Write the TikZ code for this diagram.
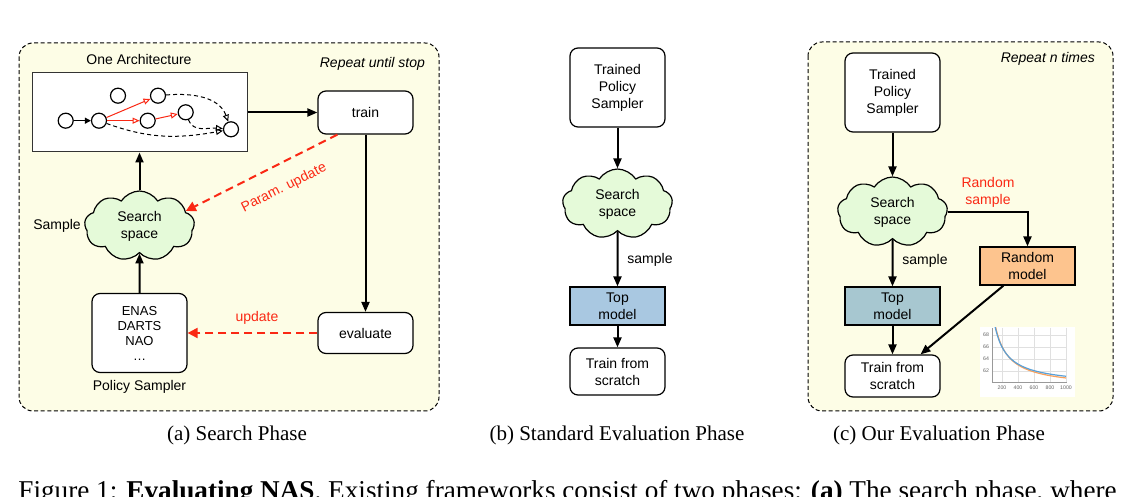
\documentclass[tikz,border=0pt]{standalone}
\usepackage{fontspec}
\setmainfont{Liberation Sans}
\newfontfamily\capfont{Liberation Serif}
\usetikzlibrary{arrows.meta,shapes.symbols}
\definecolor{panelbg}{RGB}{253,253,230}
\definecolor{cloudgreen}{RGB}{229,250,217}
\definecolor{topblue}{RGB}{169,200,225}
\definecolor{topteal}{RGB}{167,199,208}
\definecolor{randorange}{RGB}{253,196,142}
\definecolor{fbred}{RGB}{250,40,20}
\definecolor{curveblue}{RGB}{90,160,215}
\definecolor{curveorange}{RGB}{250,160,90}
\begin{document}
\begin{tikzpicture}[x=0.5pt,y=-0.5pt,
    every node/.style={font=\fontsize{7}{8.5}\selectfont},
    panel/.style={draw, dash pattern=on 2pt off 1.3pt, line width=0.5pt, fill=panelbg, rounded corners=7pt},
    box/.style={draw, line width=0.6pt, fill=white, rounded corners=4pt, align=center, minimum width=47.5pt, inner sep=0pt},
    flat/.style={draw, line width=0.6pt, align=center, minimum width=47.5pt, minimum height=19pt, inner sep=0pt},
    space/.style={cloud, cloud puffs=9, cloud puff arc=115, aspect=1.6, draw, line width=0.6pt, fill=cloudgreen, align=center, minimum width=55pt, minimum height=35pt, inner sep=0pt},
    op/.style={circle, draw, line width=0.6pt, fill=white, minimum size=7.5pt, inner sep=0pt},
    flow/.style={-{Triangle[length=5pt,width=4pt]}, line width=1pt},
    feedback/.style={-{Triangle[length=5pt,width=5pt]}, fbred, dash pattern=on 4pt off 2.5pt, line width=1pt},
    chosen/.style={-{Triangle[open,length=3.5pt,width=3pt]}, fbred, line width=0.5pt},
    skip/.style={-{Triangle[open,length=3.5pt,width=3pt]}, dash pattern=on 2pt off 1.5pt, line width=0.5pt},
    redtext/.style={text=fbred, align=center},
    subcap/.style={font=\capfont\fontsize{10.5}{12}\selectfont}
  ]
  \useasboundingbox (0,0) rectangle (1142,497);

  % (a) search phase
  \draw[panel] (19,43) rectangle (439,411);
  \node (archlbl) at (139,59) {One Architecture};
  \node[anchor=east] (repA) at (432,64) {\itshape Repeat until stop};
  \node[draw=black!80, line width=0.5pt, fill=white, minimum width=107.5pt, minimum height=39.5pt] (arch) at (139.5,112.5) {};
  \node[op] (n1) at (65.7,120.7) {};
  \node[op] (n2) at (99,120.7) {};
  \node[op] (n3) at (118,95.7) {};
  \node[op] (n4) at (158,95.7) {};
  \node[op] (n5) at (147.7,120.7) {};
  \node[op] (n6) at (185.7,112.3) {};
  \node[op] (n7) at (231,129.3) {};
  \draw[-{Triangle[length=3pt,width=3pt]}, line width=0.6pt] (n1) -- (n2);
  \draw[chosen] (n2) -- (n4);
  \draw[chosen] (n2) -- (n5);
  \draw[chosen] (n5) -- (n6);
  \draw[skip] (n4) to[out=5,in=110] (n7);
  \draw[skip] (n6) to[out=-70,in=175] (n7);
  \draw[skip] (n2) to[out=-20,in=190] (n7);

  \node[box, minimum height=21.5pt] (train) at (365.5,112.5) {train};
  \node[box, minimum height=20.5pt] (eval) at (365.5,333) {evaluate};
  \node[space] (cloudA) at (139.5,226) {Search\\space};
  \node (samplelbl) at (57,226) {Sample};
  \node[box, minimum height=39.5pt, font=\fontsize{6.5}{7.5}\selectfont] (policy) at (139.5,333) {ENAS\\DARTS\\NAO\\\dots};
  \node (policylbl) at (139.5,387) {Policy Sampler};

  \draw[flow] (arch) -- (train);
  \draw[flow] (train) -- (eval);
  \draw[flow] (policy) -- (cloudA);
  \draw[flow] (cloudA) -- (arch);
  \draw[feedback] ([xshift=10pt]train.south west) -- (cloudA.18);
  \node[redtext, rotate=26.7, inner sep=1pt] (paramlbl) at (284,188) {Param. update};
  \draw[feedback] (eval) -- (policy);
  \node[redtext] (updlbl) at (257,318) {update};

  % (b) standard evaluation
  \node[box, minimum height=39.5pt] (tpsB) at (617.5,87.5) {Trained\\Policy\\Sampler};
  \node[space] (cloudB) at (617.5,204) {Search\\space};
  \node[flat, fill=topblue] (topB) at (617.5,306) {Top\\model};
  \node[box, minimum height=23.5pt] (scratchB) at (617.5,371.5) {Train from\\scratch};
  \node (sampleB) at (650,260) {sample};
  \draw[flow] (tpsB) -- (cloudB);
  \draw[flow] (cloudB) -- (topB);
  \draw[flow] (topB) -- (scratchB);

  % (c) our evaluation
  \draw[panel] (808,42) rectangle (1113,411);
  \node[anchor=east] (repC) at (1102,59) {\itshape Repeat n times};
  \node[box, minimum height=39.5pt] (tpsC) at (892.5,92.5) {Trained\\Policy\\Sampler};
  \node[space] (cloudC) at (892.5,212) {Search\\space};
  \node[flat, fill=topteal] (topC) at (892.5,306) {Top\\model};
  \node[flat, fill=randorange] (randC) at (1027.5,266) {Random\\model};
  \node[box, minimum height=21pt] (scratchC) at (892.5,376) {Train from\\scratch};
  \node (sampleC) at (925,261) {sample};
  \node[redtext] (randlbl) at (988,192) {Random\\sample};
  \draw[flow] (tpsC) -- (cloudC);
  \draw[flow] (cloudC) -- (topC);
  \draw[flow] (topC) -- (scratchC);
  \draw[flow] (cloudC.east) -| (randC.north);
  \draw[flow] ([xshift=-12pt]randC.south) -- ([xshift=14pt]scratchC.north);

  % small loss curve
  \fill[white] (980,327) rectangle (1075,397);
  \foreach \v in {200,400,...,1000}{
    \draw[black!12, line width=0.4pt] ({986+0.08*\v},328) -- ({986+0.08*\v},382);
    \node[text=black!60, font=\fontsize{2.6}{3}\selectfont] (xt\v) at ({986+0.08*\v},388) {\v};
  }
  \foreach \v in {62,64,66,68}{
    \draw[black!12, line width=0.4pt] (992,{335+(68-\v)*6}) -- (1067,{335+(68-\v)*6});
    \node[text=black!60, font=\fontsize{2.6}{3}\selectfont] (yt\v) at (986,{335+(68-\v)*6}) {\v};
  }
  \draw[black!40, line width=0.3pt] (992,328) -- (992,382) -- (1067,382);
  \begin{scope}
    \clip (992,328) rectangle (1067,382);
    \draw[curveorange, line width=0.6pt, domain=110:1000, samples=50] plot ({986+0.08*\x},{335+(68-(59.2+1720/(\x+50)))*6});
    \draw[curveblue, line width=0.6pt, domain=110:1000, samples=50] plot ({986+0.08*\x},{335+(68-(59.6+1600/(\x+50)))*6});
  \end{scope}

  % captions
  \node[subcap] (capA) at (237,435) {(a) Search Phase};
  \node[subcap] (capB) at (617,435) {(b) Standard Evaluation Phase};
  \node[subcap] (capC) at (939,435) {(c) Our Evaluation Phase};
  \node[anchor=base west, inner sep=0pt, font=\capfont\fontsize{13.6}{15}\selectfont] (figcap) at (18,500)
    {Figure 1: \textbf{Evaluating NAS}. Existing frameworks consist of two phases: \textbf{(a)} The search phase, where};
\end{tikzpicture}
\end{document}
